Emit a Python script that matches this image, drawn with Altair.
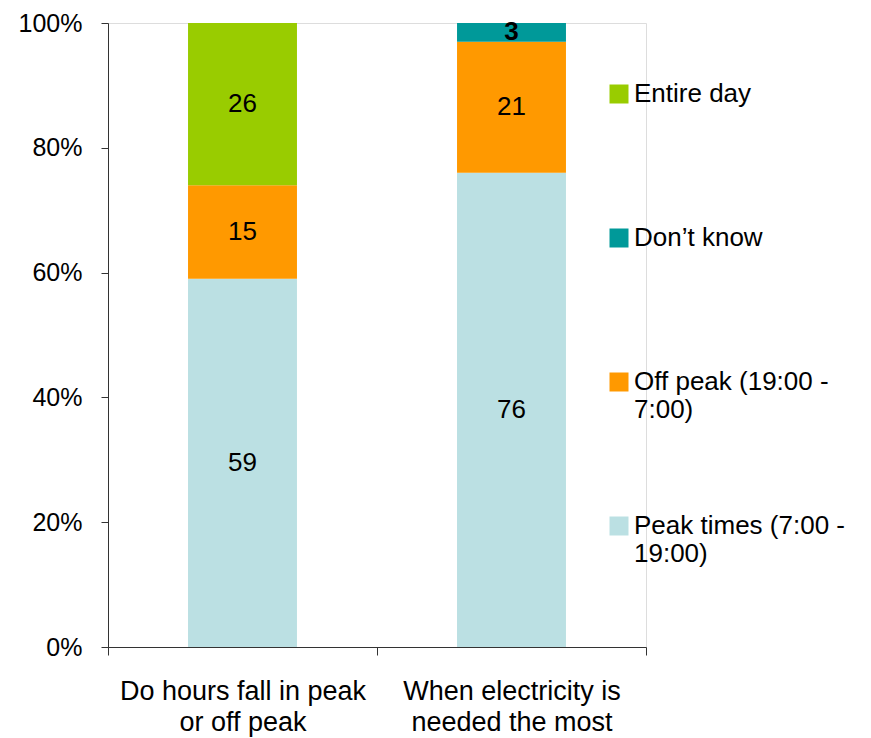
import altair as alt
import pandas as pd

categories = ["Do hours fall in peak|or off peak", "When electricity is|needed the most"]
series = ["Peak times (7:00 - 19:00)", "Off peak (19:00 - 7:00)", "Don’t know", "Entire day"]
colors = ["#BBE0E3", "#FF9900", "#009999", "#99CC00"]
peak_times = [59, 76]
off_peak = [15, 21]
dont_know = [0, 3]
entire_day = [26, 0]

rows = []
for si, (name, vals) in enumerate(zip(series, [peak_times, off_peak, dont_know, entire_day])):
    for ci, cat in enumerate(categories):
        rows.append({"category": cat, "series": name, "value": vals[ci], "ord": si})
df = pd.DataFrame(rows)

FONT = "Liberation Sans"
legend_order = series[::-1]

x = alt.X(
    "category:N",
    sort=categories,
    scale=alt.Scale(paddingInner=0, paddingOuter=0),
    axis=alt.Axis(
        title=None, labelAngle=0, labelExpr="split(datum.label, '|')",
        labelFontSize=27, labelFont=FONT, labelColor="#000", labelLineHeight=31,
        labelLimit=500,
        tickBand="extent", tickSize=8, labelPadding=23,
        domainColor="#333", tickColor="#333", grid=False,
    ),
)

base = alt.Chart(df).transform_filter(alt.datum.value > 0).transform_stack(
    stack="value", groupby=["category"], as_=["y0", "y1"],
    sort=[alt.SortField("ord", order="ascending")],
).transform_calculate(mid="(datum.y0 + datum.y1) / 2")

bars = base.mark_bar(width=alt.RelativeBandSize(0.405)).encode(
    x=x,
    y=alt.Y("y0:Q", scale=alt.Scale(domain=[0, 100], nice=False),
            axis=alt.Axis(title=None, values=[0, 20, 40, 60, 80, 100],
                          labelExpr="datum.value + '%'", labelFontSize=25, labelFont=FONT,
                          labelColor="#000", tickSize=7, labelPadding=19,
                          domainColor="#333", tickColor="#333", grid=False)),
    y2="y1:Q",
    color=alt.Color("series:N",
                    scale=alt.Scale(domain=series, range=colors),
                    sort=legend_order,
                    legend=alt.Legend(
                        title=None, orient="none", legendX=498, legendY=58,
                        values=legend_order,
                        symbolType="square", symbolSize=361, symbolStrokeWidth=0,
                        symbolOpacity=1,
                        labelFontSize=26, labelFont=FONT, labelColor="#000",
                        labelExpr="split(replace(datum.label, '- ', '-|'), '|')",
                        labelOffset=2, labelLimit=300, rowPadding=90,
                        gridAlign="all", padding=0,
                    )),
)

def text_layer(pred, weight):
    return base.transform_filter(pred).mark_text(
        fontSize=26, font=FONT, color="#000", fontWeight=weight
    ).encode(
        x=alt.X("category:N", sort=categories),
        y=alt.Y("mid:Q"),
        text=alt.Text("value:Q"),
    )

labels_normal = text_layer(alt.datum.value >= 5, "normal")
labels_bold = text_layer(alt.datum.value < 5, "bold")

chart = alt.layer(bars, labels_normal, labels_bold).properties(
    width=538, height=624,
    padding={"left": 10, "top": 3, "right": 5, "bottom": 5},
).configure_view(stroke=None).configure(background="white")

chart.save("out.html", embed_options={"renderer": "svg", "actions": False})
